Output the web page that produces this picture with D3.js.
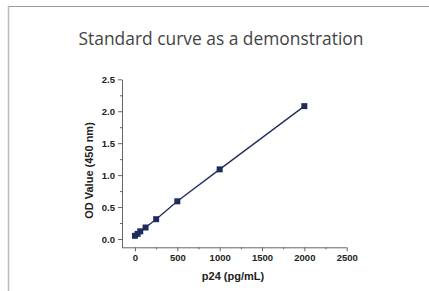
<!DOCTYPE html>
<html lang="en">
<head>
<meta charset="UTF-8">
<title>Standard curve as a demonstration</title>
<script src="https://cdn.jsdelivr.net/npm/d3@7"></script>
<style>
  html, body { margin: 0; padding: 0; background: #fff; }
  svg { display: block; }
</style>
</head>
<body>
<svg id="chart" width="429" height="291"></svg>
<script>
// standard curve data (p24 concentration vs OD at 450 nm)
var conc = [0, 31.25, 62.5, 125, 250, 500, 1000, 2000];
var od = [0.05, 0.08, 0.12, 0.18, 0.31, 0.59, 1.09, 2.08];
var xTicks = [0, 500, 1000, 1500, 2000, 2500];
var yTicks = [0.0, 0.5, 1.0, 1.5, 2.0, 2.5];

var svg = d3.select("#chart");
var width = +svg.attr("width");
var height = +svg.attr("height");

// frame lines at top and left
svg.append("line").attr("x1", 8).attr("y1", 6.5).attr("x2", width).attr("y2", 6.5)
    .attr("stroke", "#999").attr("stroke-width", 1);
svg.append("line").attr("x1", 8.5).attr("y1", 6).attr("x2", 8.5).attr("y2", height)
    .attr("stroke", "#bbb").attr("stroke-width", 1.5);

// title
svg.append("text")
    .attr("x", 221).attr("y", 45)
    .attr("text-anchor", "middle")
    .style("font-family", "'Open Sans', sans-serif")
    .style("font-size", "17.4px")
    .style("fill", "#444")
    .text("Standard curve as a demonstration");

var x = d3.scaleLinear().domain([-153, 2500]).range([122, 346.7]);
var y = d3.scaleLinear().domain([-0.13, 2.5]).range([247.3, 79.3]);

var navy = "#1f2b5e";

// axes
var xAxis = d3.axisBottom(x).tickValues(xTicks).tickSize(4).tickSizeOuter(0)
    .tickFormat(d3.format("d"));
var xMinor = d3.axisBottom(x).tickValues(d3.range(250, 2500, 500)).tickSize(2).tickFormat("");
var yAxis = d3.axisLeft(y).tickValues(yTicks).tickSize(4).tickSizeOuter(0)
    .tickFormat(d3.format(".1f"));
var yMinor = d3.axisLeft(y).tickValues(d3.range(0.25, 2.5, 0.5)).tickSize(2).tickFormat("");

function styleAxis(g) {
    g.select(".domain").attr("stroke", "#666");
    g.selectAll(".tick line").attr("stroke", "#666");
    g.selectAll(".tick text")
        .style("font-family", "Arial, 'Liberation Sans', sans-serif")
        .style("font-weight", "bold")
        .style("font-size", "9.5px")
        .style("fill", "#222");
}

svg.append("g").attr("transform", "translate(0," + y.range()[0] + ")").call(xMinor)
    .call(function(g) { g.select(".domain").remove(); g.selectAll("line").attr("stroke", "#666"); });
svg.append("g").attr("transform", "translate(" + x.range()[0] + ",0)").call(yMinor)
    .call(function(g) { g.select(".domain").remove(); g.selectAll("line").attr("stroke", "#666"); });

svg.append("g").attr("transform", "translate(0," + y.range()[0] + ")").call(xAxis)
    .call(styleAxis)
    .call(function(g) { g.select(".domain").attr("d", "M" + x.range()[0] + ",0.5H" + x.range()[1]); });
svg.append("g").attr("transform", "translate(" + x.range()[0] + ",0)").call(yAxis)
    .call(styleAxis);

// axis titles
svg.append("text")
    .attr("x", 233).attr("y", 280)
    .attr("text-anchor", "middle")
    .style("font-family", "Arial, 'Liberation Sans', sans-serif")
    .style("font-weight", "bold").style("font-size", "11px").style("fill", "#222")
    .text("p24 (pg/mL)");
svg.append("text")
    .attr("transform", "translate(93,170.5) rotate(-90)")
    .attr("text-anchor", "middle")
    .style("font-family", "Arial, 'Liberation Sans', sans-serif")
    .style("font-weight", "bold").style("font-size", "11px").style("fill", "#222")
    .text("OD Value (450 nm)");

// line and markers
var pts = conc.map(function(c, i) { return [c, od[i]]; });
svg.append("path")
    .datum(pts)
    .attr("fill", "none")
    .attr("stroke", navy)
    .attr("stroke-width", 1.3)
    .attr("d", d3.line().x(function(d) { return x(d[0]); }).y(function(d) { return y(d[1]); }));

svg.append("g").selectAll("rect")
    .data(pts)
    .enter().append("rect")
    .attr("x", function(d) { return x(d[0]) - 3; })
    .attr("y", function(d) { return y(d[1]) - 3; })
    .attr("width", 6).attr("height", 6)
    .attr("fill", navy);
</script>
</body>
</html>
